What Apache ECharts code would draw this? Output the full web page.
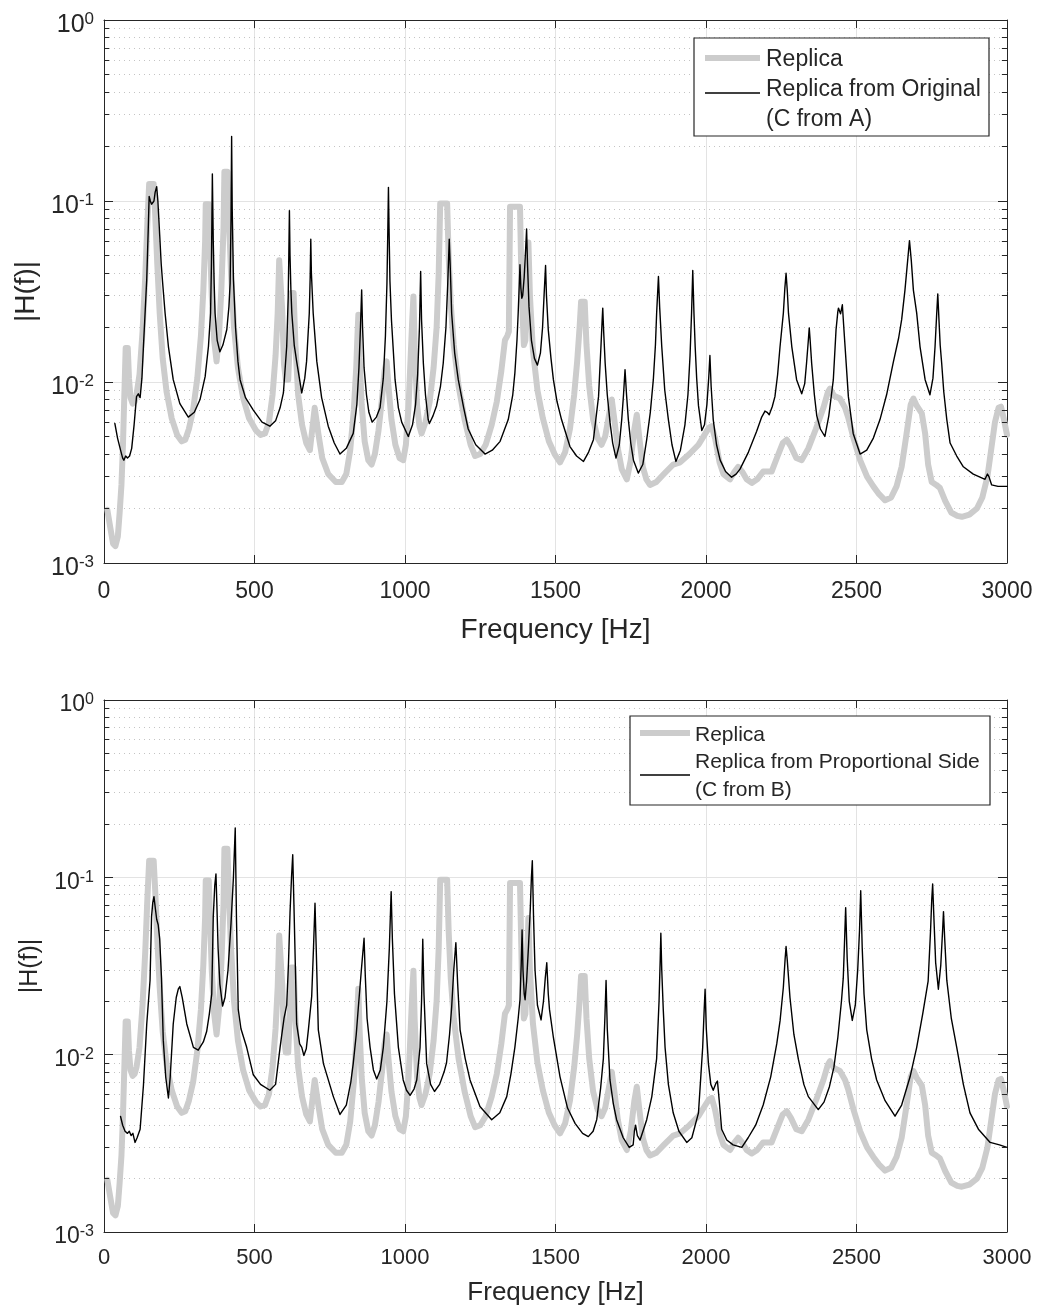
<!DOCTYPE html>
<html><head><meta charset="utf-8">
<script src="https://cdn.jsdelivr.net/npm/echarts@6/dist/echarts.min.js"></script>
<style>html,body{margin:0;padding:0;background:#fff}#c{width:1040px;height:1310px}</style>
</head><body><div id="c"></div>
<script>
// ---- data ----
const replicaFreq = [11,20,30,38,46,52,58,63,68,72,79,83,88,95,102,108,118,128,137,144,150,165,170,177,185,195,208,225,243,258,270,282,296,310,322,330,336,338,348,352,358,366,374,382,390,397,400,410,415,422,432,445,462,482,505,520,535,548,560,570,577,582,588,592,598,604,612,618,622,630,636,645,658,672,684,692,700,706,712,725,745,770,790,805,818,830,838,842,845,849,856,866,878,889,900,912,924,932,939,945,955,968,982,994,1003,1012,1019,1024,1028,1032,1040,1048,1055,1068,1082,1095,1105,1112,1117,1140,1145,1152,1162,1178,1198,1218,1233,1250,1268,1288,1305,1320,1332,1340,1345,1349,1382,1388,1395,1400,1405,1410,1415,1425,1440,1458,1478,1497,1515,1532,1548,1562,1572,1580,1585,1597,1603,1612,1625,1640,1653,1665,1678,1687,1695,1707,1720,1737,1750,1762,1770,1778,1790,1802,1814,1835,1860,1891,1914,1945,1975,1998,2010,2019,2030,2045,2058,2080,2095,2107,2120,2135,2152,2170,2190,2218,2238,2255,2268,2282,2300,2318,2340,2365,2390,2405,2412,2425,2445,2462,2472,2490,2512,2535,2556,2575,2595,2615,2633,2650,2665,2680,2689,2700,2717,2728,2738,2750,2765,2777,2795,2815,2835,2850,2875,2900,2918,2935,2948,2960,2972,2980,2990,3000];
const replicaMag = [0.00197,0.0016,0.00128,0.00124,0.0014,0.0019,0.0027,0.0045,0.009,0.0154,0.0154,0.0105,0.0082,0.0076,0.0078,0.0085,0.011,0.019,0.038,0.075,0.124,0.124,0.085,0.045,0.024,0.0135,0.0088,0.0063,0.0051,0.0047,0.0048,0.0055,0.007,0.0105,0.018,0.032,0.06,0.096,0.096,0.06,0.03,0.017,0.013,0.018,0.033,0.07,0.145,0.145,0.08,0.04,0.02,0.012,0.0082,0.0063,0.0054,0.0051,0.0052,0.006,0.0085,0.014,0.024,0.047,0.047,0.025,0.0125,0.0103,0.0103,0.018,0.031,0.031,0.016,0.0085,0.0058,0.0046,0.0042,0.0055,0.0072,0.0072,0.0052,0.0038,0.0031,0.0028,0.0028,0.0031,0.0042,0.007,0.012,0.018,0.0235,0.014,0.0075,0.0047,0.0037,0.0035,0.004,0.0054,0.0082,0.0115,0.013,0.0095,0.0062,0.0045,0.0038,0.0037,0.0045,0.0075,0.014,0.022,0.0297,0.016,0.0075,0.0057,0.0052,0.006,0.0078,0.012,0.02,0.04,0.097,0.097,0.05,0.027,0.016,0.0095,0.0062,0.0045,0.0039,0.004,0.0045,0.0058,0.0078,0.0115,0.017,0.018,0.019,0.093,0.093,0.03,0.016,0.017,0.03,0.059,0.03,0.015,0.009,0.0063,0.0047,0.004,0.0036,0.0041,0.0055,0.0085,0.013,0.02,0.0278,0.0278,0.016,0.0095,0.0062,0.0049,0.0045,0.005,0.0066,0.008,0.0063,0.0043,0.0033,0.0029,0.0037,0.0055,0.0066,0.005,0.0034,0.0029,0.0027,0.0028,0.0031,0.0035,0.0036,0.004,0.0045,0.0052,0.0056,0.0057,0.0049,0.0036,0.0031,0.0029,0.0032,0.0034,0.0032,0.0029,0.00277,0.0029,0.0032,0.0032,0.0039,0.0046,0.0048,0.0044,0.0038,0.0037,0.0043,0.0055,0.0072,0.0088,0.0092,0.0084,0.0081,0.0072,0.0064,0.0049,0.0037,0.003,0.00265,0.0024,0.00222,0.0023,0.00265,0.0034,0.005,0.0075,0.0081,0.0074,0.0067,0.0052,0.0035,0.0028,0.0027,0.0026,0.0022,0.0019,0.00182,0.0018,0.00185,0.002,0.0023,0.003,0.0043,0.006,0.0072,0.0073,0.0062,0.0051];

const fromOriginalFreq = [36,45,55,62,66,72,78,85,92,100,108,114,120,126,131,137,142,147,150,154,158,162,166,170,175,179,185,190,194,203,214,230,252,280,300,319,336,347,354,357,360,363,366,369,376,385,395,408,415,419,422,424,426,430,437,445,452,470,496,525,551,570,585,596,607,612,614,616,618,621,624,632,640,657,667,673,682,685,687,689,695,707,723,745,765,784,805,828,840,847,852,856,859,864,872,880,891,905,917,928,935,940,943,945,947,950,955,967,978,989,1011,1025,1035,1042,1048,1052,1055,1061,1068,1077,1081,1093,1105,1118,1127,1136,1142,1147,1151,1155,1165,1177,1195,1210,1235,1266,1290,1316,1343,1358,1365,1372,1376,1380,1382,1385,1388,1391,1396,1401,1404,1407,1412,1420,1430,1440,1450,1457,1462,1467,1470,1476,1485,1493,1505,1520,1548,1570,1593,1610,1626,1643,1651,1655,1657,1660,1665,1672,1681,1690,1701,1712,1720,1726,1731,1736,1742,1750,1759,1775,1790,1803,1815,1825,1832,1836,1842,1846,1853,1863,1875,1887,1900,1915,1930,1940,1947,1952,1956,1960,1964,1969,1975,1986,1995,2003,2009,2013,2017,2024,2035,2047,2065,2085,2100,2113,2141,2168,2185,2196,2203,2210,2220,2229,2238,2246,2257,2262,2266,2270,2274,2285,2301,2318,2328,2334,2340,2343,2346,2351,2360,2368,2380,2395,2408,2423,2432,2438,2440,2447,2453,2457,2462,2473,2489,2512,2534,2556,2578,2600,2622,2640,2650,2661,2670,2676,2682,2689,2700,2711,2728,2744,2754,2761,2766,2770,2774,2778,2783,2790,2800,2811,2833,2855,2888,2927,2935,2940,2949,2970,3000];
const fromOriginalMag = [0.0059,0.0049,0.0042,0.0038,0.0037,0.0039,0.0038,0.0039,0.0043,0.0058,0.0083,0.0086,0.0082,0.0105,0.0157,0.025,0.037,0.07,0.106,0.1,0.096,0.095,0.1,0.112,0.12,0.1,0.065,0.045,0.0367,0.024,0.0157,0.0103,0.0076,0.0064,0.0068,0.008,0.0107,0.0157,0.024,0.045,0.141,0.06,0.035,0.024,0.017,0.0147,0.016,0.0195,0.026,0.035,0.08,0.227,0.09,0.037,0.02,0.013,0.0103,0.0082,0.007,0.006,0.0057,0.0061,0.0072,0.0087,0.0157,0.0296,0.05,0.0885,0.05,0.032,0.024,0.016,0.013,0.0087,0.0105,0.013,0.024,0.038,0.0615,0.04,0.024,0.013,0.0082,0.0057,0.0046,0.004,0.0043,0.0052,0.0075,0.012,0.02,0.0323,0.02,0.012,0.0085,0.0068,0.006,0.0064,0.0072,0.0105,0.018,0.035,0.07,0.119,0.07,0.036,0.022,0.0103,0.0072,0.006,0.005,0.0058,0.0075,0.011,0.02,0.0408,0.022,0.0127,0.0085,0.0062,0.0059,0.0065,0.0074,0.0095,0.0127,0.02,0.035,0.0615,0.04,0.024,0.0145,0.0103,0.0072,0.0055,0.0045,0.004,0.0042,0.0047,0.0062,0.0085,0.0112,0.017,0.024,0.036,0.0444,0.033,0.029,0.03,0.038,0.055,0.07,0.045,0.026,0.017,0.0135,0.0124,0.0145,0.02,0.03,0.044,0.03,0.0194,0.0135,0.0103,0.0078,0.0062,0.0044,0.0039,0.00364,0.0041,0.0048,0.0083,0.0157,0.022,0.0256,0.019,0.0127,0.0085,0.006,0.0046,0.0038,0.0045,0.0062,0.0085,0.0117,0.0085,0.0062,0.0046,0.0037,0.00314,0.0035,0.0048,0.0068,0.0103,0.016,0.024,0.0383,0.026,0.0157,0.009,0.0062,0.0045,0.00364,0.0042,0.0058,0.0085,0.014,0.024,0.0413,0.024,0.0157,0.0105,0.0074,0.0054,0.0058,0.0075,0.0105,0.014,0.0095,0.0062,0.0045,0.0037,0.0032,0.00298,0.0031,0.0033,0.0041,0.00533,0.0064,0.0069,0.0068,0.0066,0.0073,0.0083,0.011,0.0157,0.024,0.033,0.0399,0.032,0.024,0.0157,0.0103,0.0086,0.0098,0.0127,0.017,0.0199,0.017,0.0127,0.0085,0.0065,0.0055,0.005,0.0065,0.0103,0.0194,0.0245,0.0256,0.0238,0.0267,0.021,0.0157,0.0083,0.0052,0.004,0.0042,0.0049,0.0062,0.0085,0.0128,0.0175,0.0221,0.0322,0.047,0.0604,0.047,0.0322,0.024,0.0157,0.0103,0.0085,0.0105,0.0157,0.023,0.0307,0.022,0.016,0.0127,0.0088,0.0062,0.0046,0.0039,0.0034,0.0031,0.0029,0.0031,0.003,0.0027,0.00265,0.00265];

const fromProportionalFreq = [55,62,70,78,84,90,96,103,110,120,131,142,153,158,162,166,170,175,180,185,191,197,205,214,220,230,240,247,252,260,275,297,313,330,341,350,358,363,368,372,375,379,385,394,402,412,422,430,436,440,446,455,474,496,520,551,570,585,598,607,613,618,623,627,631,636,640,650,657,664,672,679,690,696,701,705,712,729,762,784,805,820,828,838,845,855,864,868,874,884,895,906,918,928,940,948,954,958,965,978,994,1005,1017,1030,1039,1050,1055,1059,1063,1072,1085,1098,1115,1130,1138,1148,1155,1162,1169,1175,1183,1200,1216,1249,1288,1315,1338,1352,1365,1376,1382,1386,1389,1392,1396,1399,1404,1410,1416,1420,1423,1427,1432,1440,1452,1460,1466,1471,1476,1480,1493,1515,1540,1565,1590,1609,1625,1637,1650,1659,1664,1668,1672,1681,1692,1703,1725,1745,1758,1762,1766,1772,1781,1803,1820,1836,1844,1848,1850,1853,1858,1864,1875,1891,1910,1936,1953,1975,1989,1994,1997,2001,2008,2016,2024,2033,2038,2044,2052,2069,2090,2119,2140,2165,2190,2215,2235,2246,2257,2263,2266,2270,2279,2292,2307,2325,2340,2373,2392,2410,2425,2438,2450,2456,2460,2464,2469,2476,2486,2496,2504,2510,2514,2519,2525,2534,2550,2567,2595,2628,2650,2678,2700,2720,2738,2746,2750,2753,2757,2763,2772,2780,2786,2789,2793,2800,2815,2833,2855,2877,2905,2944,2975,3000];
const fromProportionalMag = [0.00448,0.004,0.0037,0.0036,0.0037,0.0035,0.0036,0.0032,0.0034,0.0038,0.0067,0.0149,0.0263,0.06,0.072,0.0778,0.068,0.058,0.054,0.045,0.027,0.012,0.0075,0.0057,0.0075,0.0149,0.021,0.0235,0.0242,0.021,0.0149,0.011,0.0106,0.0118,0.0135,0.017,0.022,0.06,0.09,0.1045,0.07,0.04,0.025,0.0188,0.021,0.03,0.055,0.1,0.19,0.06,0.018,0.014,0.011,0.0077,0.0068,0.0063,0.0068,0.011,0.016,0.019,0.033,0.063,0.1,0.134,0.07,0.03,0.0149,0.0115,0.011,0.0099,0.0108,0.0138,0.0213,0.04,0.0714,0.04,0.0138,0.0089,0.0058,0.0046,0.0052,0.007,0.0089,0.013,0.0185,0.03,0.0453,0.028,0.016,0.011,0.0082,0.0073,0.0082,0.011,0.02,0.04,0.0831,0.045,0.022,0.011,0.0072,0.0063,0.0059,0.0064,0.0072,0.011,0.02,0.0448,0.022,0.0089,0.0068,0.0062,0.0068,0.008,0.009,0.013,0.0185,0.03,0.0428,0.025,0.0138,0.0095,0.0072,0.0051,0.0043,0.0047,0.0058,0.0078,0.011,0.016,0.0204,0.032,0.0505,0.03,0.022,0.0204,0.026,0.04,0.065,0.1,0.124,0.06,0.03,0.019,0.0157,0.02,0.027,0.033,0.022,0.018,0.0125,0.0075,0.005,0.0041,0.0036,0.00345,0.0037,0.0043,0.0065,0.0095,0.016,0.0262,0.014,0.0072,0.0053,0.0043,0.0034,0.003,0.0031,0.0037,0.004,0.0035,0.0033,0.0043,0.0058,0.0095,0.02,0.035,0.0484,0.03,0.018,0.011,0.0068,0.0047,0.0037,0.0032,0.0034,0.0047,0.011,0.018,0.0234,0.014,0.0089,0.0068,0.0063,0.0069,0.0071,0.0055,0.0038,0.0033,0.0031,0.003,0.0034,0.004,0.0052,0.0075,0.0115,0.0155,0.024,0.035,0.0407,0.034,0.021,0.013,0.0094,0.0068,0.0058,0.0049,0.0054,0.0066,0.0085,0.0125,0.02,0.027,0.042,0.0675,0.035,0.02,0.0156,0.019,0.03,0.05,0.0841,0.04,0.022,0.0138,0.0095,0.0072,0.0055,0.0045,0.0052,0.0075,0.011,0.017,0.026,0.05,0.075,0.0918,0.06,0.033,0.0234,0.032,0.05,0.0641,0.045,0.0263,0.016,0.011,0.0068,0.0047,0.0038,0.0032,0.0031,0.003];

const seriesNames = ['Replica', 'Replica from Original', 'Replica from Proportional Side'];
const legendTopLines = ['Replica', 'Replica from Original', '(C from A)'];
const legendBottomLines = ['Replica', 'Replica from Proportional Side', '(C from B)'];
const xTickValues = [0, 500, 1000, 1500, 2000, 2500, 3000];
const yMinorValues = [0.002,0.003,0.004,0.005,0.006,0.007,0.008,0.009,0.02,0.03,0.04,0.05,0.06,0.07,0.08,0.09,0.2,0.3,0.4,0.5,0.6,0.7,0.8,0.9];
const xAxisTitle = 'Frequency [Hz]';
const yAxisTitle = '|H(f)|';

// ---- styling ----
const AX = '#262626';
const GREY = '#cccccc';
const FONT = '"Liberation Sans", Arial, Helvetica, sans-serif';
const zip = (f, v) => f.map((x, i) => [x, v[i]]);

function yLabel(v) {
  const e = Math.round(Math.log10(v));
  return '{b|10}{s|' + e + '}';
}

function axesFor(gi, p) {
  const xb = {
    type: 'value', gridIndex: gi, min: 0, max: 3000, interval: 500,
    axisLine: { show: true, onZero: false, lineStyle: { color: AX, width: 1 } },
    axisTick: { show: true, inside: true, length: 8, lineStyle: { color: AX } },
    splitLine: { show: true, lineStyle: { color: '#e3e3e3', width: 1 } }
  };
  const yb = {
    type: 'log', logBase: 10, gridIndex: gi, min: 0.001, max: 1,
    axisLine: { show: true, onZero: false, lineStyle: { color: AX, width: 1 } },
    axisTick: { show: true, inside: true, length: 9, lineStyle: { color: AX } },
    splitLine: { show: true, lineStyle: { color: '#e3e3e3', width: 1 } }
  };
  return {
    x: [
      Object.assign({}, xb, {
        position: 'bottom',
        axisLabel: { show: true, color: AX, fontSize: p.tick, fontFamily: FONT, margin: p.xMargin,
          formatter: v => (xTickValues.indexOf(v) >= 0 ? String(v) : '') },
        name: xAxisTitle, nameLocation: 'middle', nameGap: p.xGap,
        nameTextStyle: { color: AX, fontSize: p.xTitle, fontFamily: FONT }
      }),
      Object.assign({}, xb, { position: 'top', axisLabel: { show: false }, splitLine: { show: false } })
    ],
    y: [
      Object.assign({}, yb, {
        position: 'left',
        axisLabel: { show: true, margin: 10, color: AX, formatter: yLabel, padding: [7, 0, 0, 0],
          rich: {
            b: { fontSize: p.base, color: AX, fontFamily: FONT, lineHeight: p.base, padding: [3, 0, 0, 0] },
            s: { fontSize: p.sup, color: AX, fontFamily: FONT, verticalAlign: 'top', lineHeight: p.sup }
          } },
        name: yAxisTitle, nameLocation: 'middle', nameRotate: 90, nameGap: p.yGap,
        nameTextStyle: { color: AX, fontSize: p.yTitle, fontFamily: FONT }
      }),
      Object.assign({}, yb, { position: 'right', axisLabel: { show: false }, splitLine: { show: false } })
    ]
  };
}

const a0 = axesFor(0, { tick: 23, xMargin: 17, xGap: 53, xTitle: 28, base: 25, sup: 17, yGap: 60, yTitle: 28 });
const a1 = axesFor(1, { tick: 22, xMargin: 15, xGap: 48, xTitle: 26, base: 23, sup: 16, yGap: 61, yTitle: 25 });

function minorDecor(xi, yi) {
  const data = [];
  yMinorValues.forEach(v => { data.push([{ xAxis: 0, yAxis: v }, { xAxis: 3000, yAxis: v }]); });
  const ticks = [];
  yMinorValues.forEach(v => {
    ticks.push([{ coord: [0, v] }, { coord: [17, v] }]);
    ticks.push([{ coord: [2983, v] }, { coord: [3000, v] }]);
  });
  return [
    { type: 'line', xAxisIndex: xi, yAxisIndex: yi, data: [], silent: true, z: 1,
      markLine: { silent: true, symbol: 'none', z: 1, label: { show: false }, animation: false,
        lineStyle: { color: '#c4c4c4', width: 1, type: [1, 4] }, emphasis: { disabled: true }, data: data } },
    { type: 'line', xAxisIndex: xi, yAxisIndex: yi, data: [], silent: true, z: 6,
      markLine: { silent: true, symbol: 'none', z: 6, label: { show: false }, animation: false,
        lineStyle: { color: AX, width: 1, type: 'solid' }, emphasis: { disabled: true }, data: ticks } }
  ];
}

function curve(name, xi, yi, data, color, width, z) {
  return { name: name, type: 'line', xAxisIndex: xi, yAxisIndex: yi, data: data, showSymbol: false, symbol: 'none',
    smooth: false, z: z, silent: true, animation: false, clip: true,
    lineStyle: { color: color, width: width, join: 'round', cap: 'round' } };
}

function legendBox(b) {
  const font = b.fs + 'px ' + FONT;
  return [
    { type: 'rect', z: 20, shape: { x: b.x, y: b.y, width: b.w, height: b.h }, style: { fill: '#fff', stroke: AX, lineWidth: 1.2 } },
    { type: 'line', z: 21, shape: { x1: b.lx1, y1: b.greyY, x2: b.lx2, y2: b.greyY }, style: { stroke: GREY, lineWidth: 6 } },
    { type: 'line', z: 21, shape: { x1: b.lx1, y1: b.blackY, x2: b.lx2, y2: b.blackY }, style: { stroke: '#000', lineWidth: 1.3 } },
    { type: 'text', z: 21, x: b.tx, y: b.ty[0], style: { text: b.lines[0], font: font, fill: AX, verticalAlign: 'middle', align: 'left' } },
    { type: 'text', z: 21, x: b.tx, y: b.ty[1], style: { text: b.lines[1], font: font, fill: AX, verticalAlign: 'middle', align: 'left' } },
    { type: 'text', z: 21, x: b.tx, y: b.ty[2], style: { text: b.lines[2], font: font, fill: AX, verticalAlign: 'middle', align: 'left' } }
  ];
}

const option = {
  backgroundColor: '#fff',
  animation: false,
  grid: [
    { left: 104, top: 20, width: 903, height: 543, containLabel: false },
    { left: 104, top: 700, width: 903, height: 532, containLabel: false }
  ],
  xAxis: [a0.x[0], a0.x[1], a1.x[0], a1.x[1]],
  yAxis: [a0.y[0], a0.y[1], a1.y[0], a1.y[1]],
  series: [].concat(
    minorDecor(0, 0),
    minorDecor(2, 2),
    [
      curve(seriesNames[0], 0, 0, zip(replicaFreq, replicaMag), GREY, 6, 3),
      curve(seriesNames[1], 0, 0, zip(fromOriginalFreq, fromOriginalMag), '#000', 1.4, 4),
      curve(seriesNames[0], 2, 2, zip(replicaFreq, replicaMag), GREY, 6, 3),
      curve(seriesNames[2], 2, 2, zip(fromProportionalFreq, fromProportionalMag), '#000', 1.4, 4)
    ]
  ),
  graphic: [].concat(
    legendBox({ x: 694, y: 38, w: 295, h: 98, lines: legendTopLines, fs: 23, lx1: 705, lx2: 760, tx: 766,
      greyY: 58, blackY: 93, ty: [60, 90, 120] }),
    legendBox({ x: 630, y: 716, w: 360, h: 89, lines: legendBottomLines, fs: 21, lx1: 640, lx2: 690, tx: 695,
      greyY: 733, blackY: 775, ty: [735, 762, 790] })
  )
};

const chart = echarts.init(document.getElementById('c'), null, { renderer: 'canvas' });
chart.setOption(option);
</script>
</body></html>
